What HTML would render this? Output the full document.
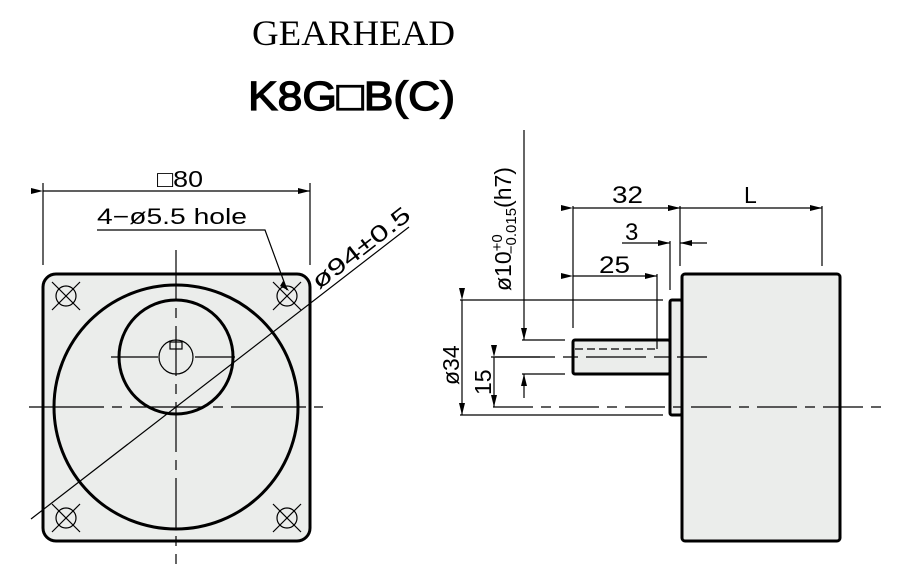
<!DOCTYPE html>
<html><head><meta charset="utf-8"><style>
html,body{margin:0;padding:0;background:#fff}
svg{display:block}
text{font-family:"Liberation Sans",sans-serif;fill:#000}
</style></head><body>
<svg width="899" height="576" viewBox="0 0 899 576" xmlns="http://www.w3.org/2000/svg">
<defs>
<marker id="a" viewBox="0 0 12 6" refX="12" refY="3" markerWidth="12" markerHeight="6" orient="auto" markerUnits="userSpaceOnUse"><path d="M0,0L12,3L0,6z" fill="#000"/></marker>
</defs>
<text x="252" y="45" font-size="36" textLength="203" lengthAdjust="spacingAndGlyphs" style="font-family:'Liberation Serif',serif">GEARHEAD</text>
<text x="248" y="110" font-size="41" textLength="207" lengthAdjust="spacingAndGlyphs" stroke="#000" stroke-width="1.3">K8G□B(C)</text>

<!-- LEFT VIEW -->
<rect x="43" y="274" width="267" height="267" rx="13" fill="#ebedeb" stroke="#000" stroke-width="3"/>
<circle cx="176" cy="407" r="122" fill="none" stroke="#000" stroke-width="3"/>
<circle cx="176" cy="357" r="57" fill="none" stroke="#000" stroke-width="3"/>
<circle cx="176" cy="357" r="17" fill="none" stroke="#000" stroke-width="1.2"/>
<rect x="170" y="342" width="12" height="7" fill="none" stroke="#000" stroke-width="1.2"/>
<g stroke="#000" stroke-width="1.2" fill="none">
<line x1="111" y1="357" x2="158" y2="357"/><line x1="195" y1="357" x2="235" y2="357"/>
<line x1="29" y1="407" x2="323" y2="407" stroke-dasharray="75,8,10,8"/>
<line x1="176" y1="250" x2="176" y2="564" stroke-dasharray="50,8,10,8"/>
<g id="h"><circle cx="66" cy="296" r="10"/><line x1="52" y1="282" x2="80" y2="310"/><line x1="80" y1="282" x2="52" y2="310"/></g>
<use href="#h" x="221"/><use href="#h" y="222"/><use href="#h" x="221" y="222"/>
<line x1="43" y1="183" x2="43" y2="265"/><line x1="310" y1="183" x2="310" y2="265"/>
<line x1="43" y1="191" x2="310" y2="191" marker-start="url(#a)" marker-end="url(#a)"/>
<polyline points="97,230 265,230 287,290"/>
<line x1="409" y1="227" x2="31" y2="519"/>
</g>
<path d="M283,281 L289,291 L280,286z" fill="#000"/>
<text x="157" y="187" font-size="23" textLength="46" lengthAdjust="spacingAndGlyphs">□80</text>
<text x="97" y="224" font-size="22" textLength="150" lengthAdjust="spacingAndGlyphs">4−ø5.5 hole</text>
<text transform="translate(319,290) rotate(-37.7)" font-size="23" textLength="118" lengthAdjust="spacingAndGlyphs">ø94±0.5</text>

<!-- RIGHT VIEW -->
<rect x="682" y="274" width="158" height="267" rx="3" fill="#ebedeb" stroke="#000" stroke-width="3"/>
<rect x="670" y="300" width="12" height="115" rx="2" fill="#ebedeb" stroke="#000" stroke-width="3"/>
<rect x="573" y="340" width="97" height="34" rx="2" fill="#ebedeb" stroke="#000" stroke-width="3"/>
<g stroke="#000" stroke-width="1.2" fill="none">
<polyline points="575,349 657,349" stroke-dasharray="8,4"/>
<line x1="657" y1="349" x2="657" y2="274"/>
<line x1="495" y1="357" x2="707" y2="357" stroke-dasharray="60,8,15,8"/>
<line x1="493" y1="407" x2="888" y2="407" stroke-dasharray="40,8,10,8"/>
<line x1="573" y1="206" x2="573" y2="328"/><line x1="680" y1="206" x2="680" y2="266"/><line x1="822" y1="206" x2="822" y2="266"/>
<line x1="670" y1="241" x2="670" y2="290"/>
<line x1="573" y1="208" x2="680" y2="208" marker-start="url(#a)" marker-end="url(#a)"/>
<line x1="680" y1="208" x2="822" y2="208" marker-start="url(#a)" marker-end="url(#a)"/>
<line x1="622" y1="243" x2="670" y2="243" marker-end="url(#a)"/>
<line x1="707" y1="243" x2="680" y2="243" marker-end="url(#a)"/>
<line x1="573" y1="276" x2="657" y2="276" marker-start="url(#a)" marker-end="url(#a)"/>
<line x1="460" y1="300" x2="663" y2="300"/><line x1="460" y1="415" x2="663" y2="415"/>
<line x1="462" y1="300" x2="462" y2="415" marker-start="url(#a)" marker-end="url(#a)"/>
<line x1="491" y1="357" x2="540" y2="357"/>
<line x1="494" y1="357" x2="494" y2="407" marker-start="url(#a)" marker-end="url(#a)"/>
<line x1="522" y1="340" x2="565" y2="340"/><line x1="522" y1="374" x2="565" y2="374"/>
<line x1="524" y1="130" x2="524" y2="340" marker-end="url(#a)"/>
<line x1="524" y1="398" x2="524" y2="374" marker-end="url(#a)"/>
</g>
<text x="612" y="203" font-size="24" textLength="31" lengthAdjust="spacingAndGlyphs">32</text>
<text x="744" y="203" font-size="23">L</text>
<text x="625" y="240" font-size="24">3</text>
<text x="599" y="273" font-size="24" textLength="31" lengthAdjust="spacingAndGlyphs">25</text>
<text transform="translate(459,385) rotate(-90)" font-size="23">ø34</text>
<text transform="translate(491,395) rotate(-90)" font-size="23">15</text>
<text transform="translate(511,291) rotate(-90)" font-size="23">ø10<tspan font-size="15" dy="-9">+0</tspan><tspan font-size="15" dx="-20" dy="14">−0.015</tspan><tspan dy="-5">(h7)</tspan></text>
</svg>
</body></html>
